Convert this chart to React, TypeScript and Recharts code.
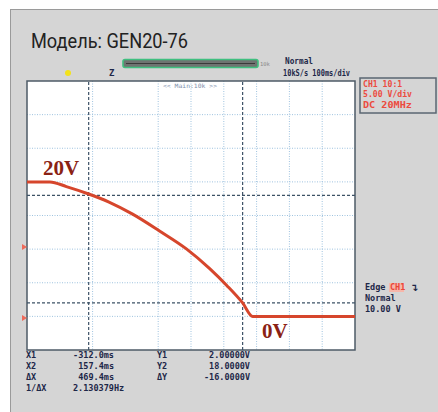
import React from "react";
import { CartesianGrid, Line, LineChart, ReferenceArea, ReferenceLine, XAxis, YAxis } from "recharts";

// time in ms (100 ms/div), voltage in V (5 V/div)
const timeMs = [-500, -430, -380, -312, -250, -178, -96, -13, 57, 109, 157.4, 188, 500];
const volts = [20, 20, 19.3, 18.2, 17, 15.2, 12.7, 10, 7.1, 4.6, 2, 0, 0];

const xGrid = [-400, -300, -200, -100, 0, 100, 200, 300, 400];
const yGrid = [0, 5, 10, 15, 20, 25, 30];

const cursorX = [-312, 157.4];
const cursorY = [2, 18];

const readoutLeft = [
  ["X1", "-312.0ms"],
  ["X2", "157.4ms"],
  ["ΔX", "469.4ms"],
  ["1/ΔX", "2.130379Hz"],
];
const readoutRight = [
  ["Y1", "2.00000V"],
  ["Y2", "18.0000V"],
  ["ΔY", "-16.0000V"],
];
const channelInfo = ["CH1 10:1", "5.00 V/div", "DC   20MHz"];

const data = timeMs.map((t, i) => ({ t, v: volts[i] }));

const mono = "'DejaVu Sans Mono', monospace";
const navy = "#1d2748";

export default function App() {
  return (
    <div style={{ position: "relative", width: 438, height: 412, background: "#fff" }}>
      <style>{`body{margin:0}`}</style>
      <div
        style={{
          position: "absolute",
          left: 10,
          top: 9,
          width: 428,
          height: 403,
          background: "#d5d5d5",
          borderTop: "1px solid #9a9a9a",
          borderLeft: "1px solid #9a9a9a",
          boxSizing: "border-box",
        }}
      />
      <div style={{ position: "absolute", left: 0, top: 0 }}>
        <LineChart width={438} height={412} data={data} margin={{ top: 81, right: 83, bottom: 62, left: 27 }}>
          <CartesianGrid
            fill="#ffffff"
            stroke="#9fc3df"
            strokeDasharray="1 1.5"
            verticalValues={xGrid}
            horizontalValues={yGrid}
          />
          <XAxis type="number" dataKey="t" domain={[-500, 500]} hide />
          <YAxis type="number" domain={[-5, 35]} hide />
          {cursorX.map((x) => (
            <ReferenceLine key={"x" + x} x={x} stroke="#3d5266" strokeWidth={1.2} strokeDasharray="3 2" />
          ))}
          {cursorY.map((y) => (
            <ReferenceLine key={"y" + y} y={y} stroke="#3d5266" strokeWidth={1.2} strokeDasharray="3 2" />
          ))}
          <ReferenceArea x1={-500} x2={500} y1={-5} y2={35} fill="none" stroke="#4d5b67" strokeWidth={1.5} />
          <Line
            type="monotone"
            dataKey="v"
            stroke="#d6462c"
            strokeWidth={3}
            dot={false}
            isAnimationActive={false}
          />
        </LineChart>
      </div>
      <svg
        width={438}
        height={412}
        style={{ position: "absolute", left: 0, top: 0, pointerEvents: "none" }}
      >
        <text x={31} y={48} fontSize={21} fill="#222" fontFamily="'Liberation Sans Narrow', 'Roboto', sans-serif" textLength={157} lengthAdjust="spacingAndGlyphs">
          Модель: GEN20-76
        </text>

        <rect x={123} y={59.5} width={135} height={8} rx={2} fill="#6f7371" stroke="#3fbf7f" strokeWidth={1.6} />
        <line x1={126} y1={63.5} x2={255} y2={63.5} stroke="#3a3a3a" strokeWidth={1.2} />
        <text x={260} y={65.5} fontSize={5.5} fill="#8a8a8a" fontFamily={mono}>10k</text>
        <circle cx={68} cy={73} r={3} fill="#f3e21a" />
        <text x={109} y={76} fontSize={9} fontWeight="bold" fill={navy} fontFamily={mono}>Z</text>
        <text x={285} y={64} fontSize={8.5} fontWeight="bold" fill={navy} fontFamily={mono} textLength={28} lengthAdjust="spacingAndGlyphs">Normal</text>
        <text x={283} y={76} fontSize={8} fontWeight="bold" fill={navy} fontFamily={mono} textLength={67} lengthAdjust="spacingAndGlyphs">10kS/s 100ms/div</text>
        <text x={190} y={88} fontSize={6} fill="#7d8fab" fontFamily={mono} textAnchor="middle" textLength={54} lengthAdjust="spacingAndGlyphs">{"<< Main:10k >>"}</text>

        <rect x={360} y={78} width={76} height={35} fill="none" stroke="#5a6672" strokeWidth={1.5} />
        {channelInfo.map((s, i) => (
          <text key={s} x={363} y={86.5 + i * 10.8} fontSize={8.5} fontWeight="bold" fill="#ec4b3f" fontFamily={mono} textLength={s.length * 4.9} lengthAdjust="spacingAndGlyphs">
            {s}
          </text>
        ))}

        <text x={365} y={290} fontSize={8.5} fontWeight="bold" fill={navy} fontFamily={mono}>Edge</text>
        <rect x={389} y={283} width={15} height={9} fill="#f7b6aa" />
        <text x={390} y={290} fontSize={8.5} fontWeight="bold" fill="#e8463a" fontFamily={mono}>CH1</text>
        <text x={410} y={291} fontSize={10} fontWeight="bold" fill={navy} fontFamily="'DejaVu Sans', sans-serif">↴</text>
        <text x={365} y={301} fontSize={8.5} fontWeight="bold" fill={navy} fontFamily={mono}>Normal</text>
        <text x={365} y={312} fontSize={8.5} fontWeight="bold" fill={navy} fontFamily={mono}>10.00 V</text>

        <polygon points="22,244 27,247 22,250" fill="#ee6a5a" />
        <polygon points="22,315 27,318 22,321" fill="#ee6a5a" />

        <text x={43} y={175} fontSize={21} fontWeight="bold" fill="#8a2214" fontFamily="'Liberation Serif', serif">20V</text>
        <text x={262} y={338} fontSize={21} fontWeight="bold" fill="#8a2214" fontFamily="'Liberation Serif', serif">0V</text>

        {readoutLeft.map(([k, v], i) => (
          <g key={k}>
            <text x={26} y={358 + i * 11} fontSize={8.5} fontWeight="bold" fill={navy} fontFamily={mono}>{k}</text>
            <text x={i === 3 ? 73 : 114} y={358 + i * 11} fontSize={8.5} fontWeight="bold" fill={navy} fontFamily={mono} textAnchor={i === 3 ? "start" : "end"}>{v}</text>
          </g>
        ))}
        {readoutRight.map(([k, v], i) => (
          <g key={k}>
            <text x={157} y={358 + i * 11} fontSize={8.5} fontWeight="bold" fill={navy} fontFamily={mono}>{k}</text>
            <text x={250} y={358 + i * 11} fontSize={8.5} fontWeight="bold" fill={navy} fontFamily={mono} textAnchor="end">{v}</text>
          </g>
        ))}
      </svg>
    </div>
  );
}
